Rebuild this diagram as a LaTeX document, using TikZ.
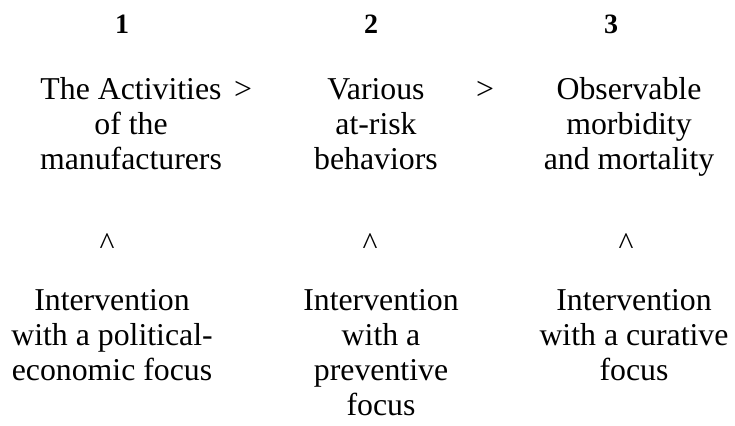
\documentclass[tikz,border=0pt]{standalone}
\usepackage{fontspec}
\setmainfont{Liberation Serif}
\tikzset{
	x=0.5pt, y=-0.5pt,
	every node/.style={inner sep=0pt, anchor=base},
	stage/.style={align=center, font=\fontsize{15.9}{17.5}\selectfont},
	stagenum/.style={font=\fontsize{14}{17}\selectfont\bfseries},
	sign/.style={font=\fontsize{15.9}{17.5}\selectfont},
}
\begin{document}
\begin{tikzpicture}
      \useasboundingbox (0,0) rectangle (735,426);
      % numbers of the stages
      \node[stagenum] (n1) at (122,34) {1};
      \node[stagenum] (n2) at (371,34) {2};
      \node[stagenum] (n3) at (611,34) {3};

      % the stages (base = last line)
      \node[stage] (s1) at (131,170) {The Activities\\of the\\manufacturers};
      \node[stage] (s2) at (376,170) {Various\\at-risk\\behaviors};
      \node[stage] (s3) at (629,170) {Observable\\morbidity\\and mortality};
      \node[sign] (g1) at (243,100) {>};
      \node[sign] (g2) at (485,100) {>};

      % the interventions
      \node[sign] (c1) at (107,255) {\textasciicircum};
      \node[sign] (c2) at (370,255) {\textasciicircum};
      \node[sign] (c3) at (626,255) {\textasciicircum};
      \node[stage] (i1) at (112,381) {Intervention\\with a political-\\economic focus};
      \node[stage] (i2) at (381,416) {Intervention\\with a\\preventive\\focus};
      \node[stage] (i3) at (634,381) {Intervention\\with a curative\\focus};
\end{tikzpicture}
\end{document}
